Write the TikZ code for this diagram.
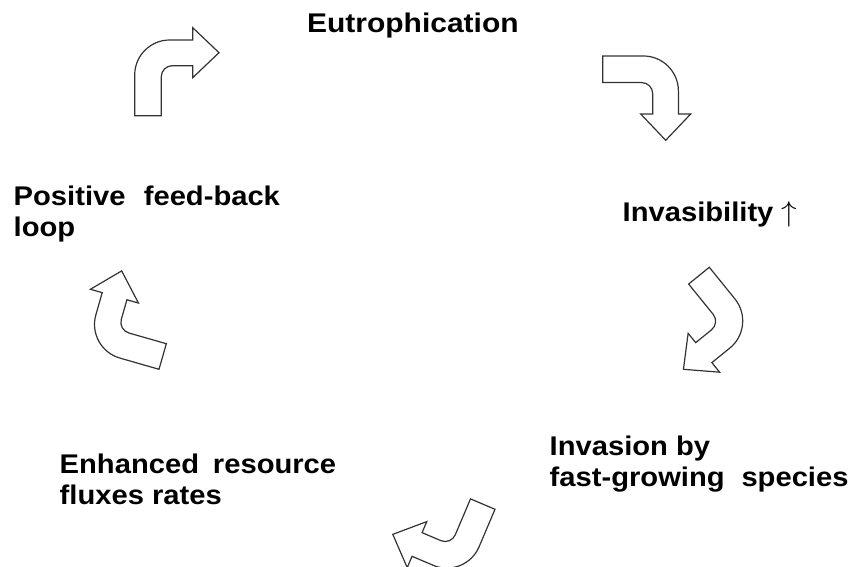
\documentclass[tikz,border=0pt]{standalone}
\usepackage{fontspec}
\setmainfont{Liberation Sans}
\begin{document}
\begin{tikzpicture}[x=0.5pt,y=0.5pt,
    lbl/.style={font=\fontsize{13.5}{15.75}\selectfont\bfseries, inner sep=0pt, anchor=base west, align=left, xscale=1.08},
    bent/.style={draw=black!80, fill=white, line width=0.6pt, line join=miter}]
  \useasboundingbox (0,0) rectangle (853,567);
  \node[lbl,xscale=1.028] (eutro) at (306.7,534.3) {Eutrophication};
  \node[lbl] (invas) at (622.3,345.3) {Invasibility $\uparrow$};
  \node[lbl] (feedback) at (13.3,330.3) {Positive\hspace{0.35em} feed-back\\loop};
  \node[lbl] (invasion) at (549.3,80.3) {Invasion by\\fast-growing\hspace{0.3em} species};
  \node[lbl] (fluxes) at (59.3,62) {Enhanced\hspace{0.2em} resource\\fluxes rates};
  % bent arrows round the cycle
  \foreach \x/\y/\r in {134.7/451.3/0, 602.7/511/-90, 709.3/299.7/-141, 159/197.7/74, 495/57.7/157} {
    \draw[bent,shift={(\x,\y)},rotate=\r] (0,0) -- (26.6,0) -- (26.6,39) arc[start angle=180,end angle=90,radius=11] -- (58,50) -- (58,38) -- (84.3,63) -- (58,88) -- (58,75.7) -- (35,75.7) arc[start angle=90,end angle=180,radius=35] -- cycle;
  }
\end{tikzpicture}
\end{document}
